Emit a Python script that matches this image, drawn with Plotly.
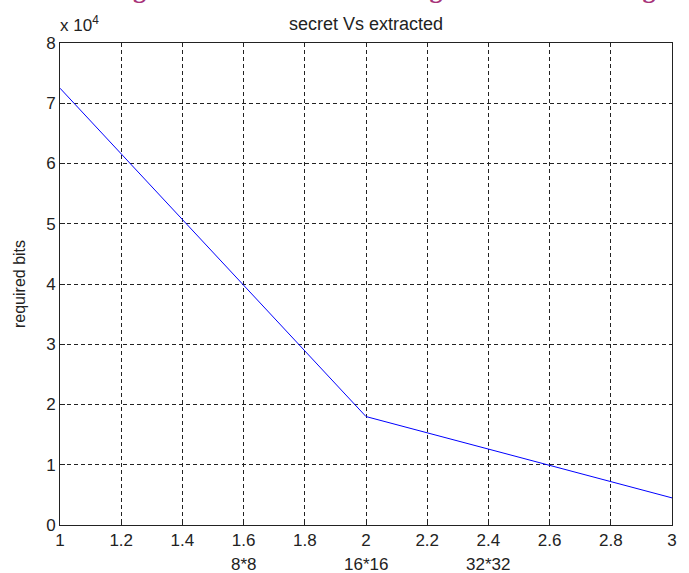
import plotly.graph_objects as go

x_vals = [1, 2, 3]
required_bits = [72500, 18000, 4500]
y_tick_vals = [0, 10000, 20000, 30000, 40000, 50000, 60000, 70000, 80000]
y_tick_text = ["0", "1", "2", "3", "4", "5", "6", "7", "8"]
x_tick_vals = [1, 1.2, 1.4, 1.6, 1.8, 2, 2.2, 2.4, 2.6, 2.8, 3]
x_tick_text = ["1", "1.2", "1.4", "1.6", "1.8", "2", "2.2", "2.4", "2.6", "2.8", "3"]
size_labels = ["8*8", "16*16", "32*32"]
size_pos = [1.6, 2, 2.4]

FONT = "Liberation Sans, Arial, sans-serif"

fig = go.Figure()
fig.add_trace(go.Scatter(x=x_vals, y=required_bits, mode="lines",
                         line=dict(color="#0000ff", width=1), showlegend=False))

axis_common = dict(showline=True, mirror=True, linecolor="#222222", linewidth=1,
                   showgrid=True, gridcolor="#222222", gridwidth=1, griddash="4px,3px",
                   ticks="inside", ticklen=5, tickcolor="#222222", zeroline=False,
                   tickfont=dict(family=FONT, size=17, color="#222222"))

fig.update_xaxes(range=[1, 3], tickvals=x_tick_vals, ticktext=x_tick_text, **axis_common)
fig.update_yaxes(range=[0, 80000], tickvals=y_tick_vals, ticktext=y_tick_text,
                 title=dict(text="required bits", font=dict(family=FONT, size=16, color="#222222"),
                            standoff=16),
                 **axis_common)

annotations = [
    dict(text="secret Vs extracted", x=0.5, y=1, xref="paper", yref="paper",
         xanchor="center", yanchor="bottom", yshift=7, showarrow=False,
         font=dict(family=FONT, size=18, color="#222222")),
    dict(text="x 10<sup>4</sup>", x=0, y=1, xref="paper", yref="paper",
         xanchor="left", yanchor="bottom", xshift=-2, yshift=6, showarrow=False,
         font=dict(family=FONT, size=17, color="#222222")),
    dict(text="<b>Figure 4.4: Size of secret image vs extracted image</b>", x=0.537, y=1,
         xref="paper", yref="paper", xanchor="center", yanchor="bottom", yshift=37,
         showarrow=False, font=dict(family="Liberation Serif, Times New Roman, serif",
                                    size=26, color="#a8347a")),
]
for lab, pos in zip(size_labels, size_pos):
    annotations.append(dict(text=lab, x=pos, y=0, xref="x", yref="paper",
                            xanchor="center", yanchor="top", yshift=-28, showarrow=False,
                            font=dict(family=FONT, size=17, color="#222222")))

fig.update_layout(width=689, height=573, margin=dict(l=60, r=15, t=43, b=48),
                  plot_bgcolor="white", paper_bgcolor="white",
                  annotations=annotations)

fig.write_html("out.html")
